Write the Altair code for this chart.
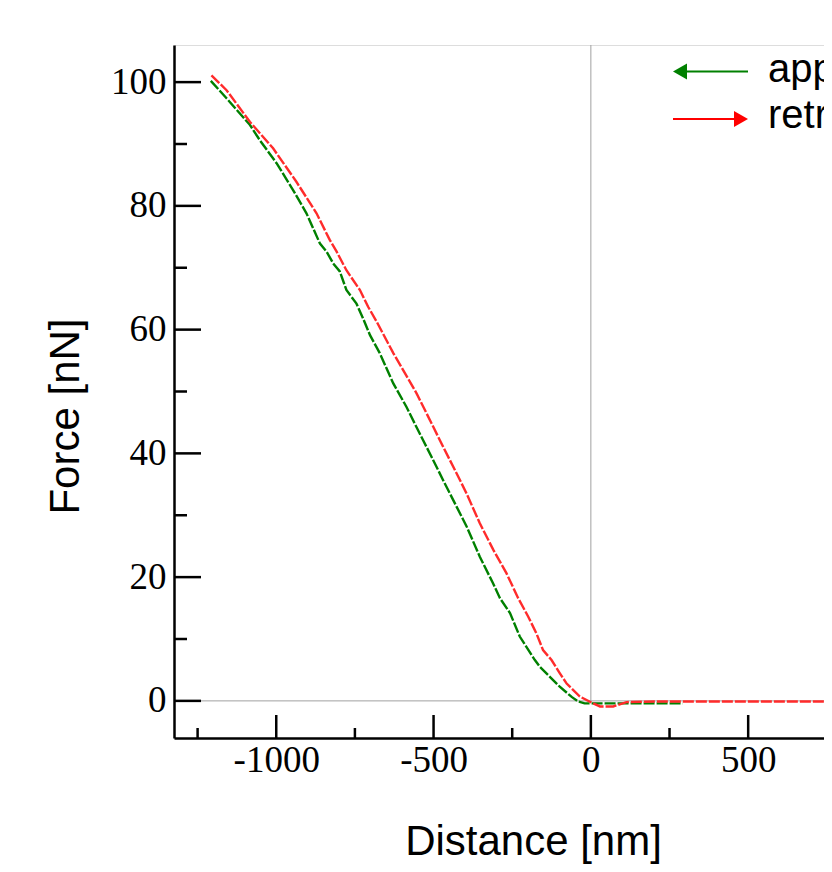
import altair as alt
import pandas as pd

# ---- data ----
series_names = ["approach", "retract"]

approach_x = [-1208, -1158, -1084, -1052, -999, -947, -904, -861, -840, -819, -798, -777,
              -745, -724, -702, -671, -628, -586, -544, -501, -470, -427, -395, -353,
              -311, -289, -257, -226, -178, -162, -99, -60, -40, -20, 50, 150, 250, 292]
approach_f = [100.2, 97.4, 93.1, 90.6, 86.9, 82.6, 78.8, 73.9, 72.6, 70.7, 69.4, 66.4,
              64.2, 61.8, 59.1, 56.2, 51.3, 47.5, 43.2, 38.9, 35.7, 31.4, 28.2, 23.3,
              19.0, 16.6, 14.2, 10.4, 6.6, 5.5, 2.3, 0.6, -0.1, -0.4, -0.4, -0.4, -0.4, -0.4]

retract_x = [-1206, -1158, -1084, -1010, -936, -872, -830, -808, -777, -734, -708, -681,
             -628, -554, -501, -470, -427, -395, -353, -310, -268, -231, -199, -173,
             -152, -125, -99, -77, -35, 7, 29, 71, 113, 200, 400, 600, 800, 1000]
retract_f = [101.1, 98.7, 93.6, 89.3, 83.9, 78.8, 74.5, 72.6, 69.6, 66.4, 63.7, 61.3,
             56.2, 49.7, 44.3, 41.1, 36.8, 33.5, 28.7, 24.4, 20.6, 16.6, 13.6, 10.9,
             8.2, 6.6, 4.5, 2.8, 0.7, -0.4, -0.9, -0.9, -0.2, -0.1, -0.1, -0.1, -0.1, -0.1]

x_major = [-1000, -500, 0, 500]
x_minor = [-1250, -750, -250, 250, 750]
y_major = [0, 20, 40, 60, 80, 100]
y_minor = [10, 30, 50, 70, 90]

# ---- chart ----
W, H = 650, 693

df = pd.concat([
    pd.DataFrame({"x": approach_x, "y": approach_f, "series": series_names[0]}),
    pd.DataFrame({"x": retract_x, "y": retract_f, "series": series_names[1]}),
])

xs = alt.Scale(domain=[-1325, 741], nice=False, zero=False)
ys = alt.Scale(domain=[-6, 106], nice=False, zero=False)

xaxis = alt.Axis(values=x_major, title="Distance [nm]", ticks=False, tickSize=0, grid=False,
                 labelExpr="'' + datum.value",
                 labelFont="Liberation Serif", labelFontSize=37, labelColor="black",
                 labelPadding=4, labelFlush=False, labelOverlap=False,
                 domainColor="black", domainWidth=2.5,
                 titleFont="Liberation Sans", titleFontSize=42, titleFontWeight="normal",
                 titleColor="black", titleX=359, titleY=116, titleBaseline="alphabetic",
                 titleAlign="center")
yaxis = alt.Axis(values=y_major, title="Force [nN]", ticks=False, tickSize=0, grid=False,
                 labelExpr="'' + datum.value",
                 labelFont="Liberation Serif", labelFontSize=37, labelColor="black",
                 labelPadding=8, labelFlush=False, labelOverlap=False,
                 domainColor="black", domainWidth=2.5,
                 titleFont="Liberation Sans", titleFontSize=42, titleFontWeight="normal",
                 titleColor="black", titleAngle=270, titleX=-96, titleY=371,
                 titleBaseline="alphabetic", titleAlign="center")

X = lambda: alt.X("x:Q", scale=xs, axis=xaxis)
Y = lambda: alt.Y("y:Q", scale=ys, axis=yaxis)

zero_h = alt.Chart(pd.DataFrame({"y": [0]})).mark_rule(color="#a0a0a0", strokeWidth=1).encode(y=Y())
zero_v = alt.Chart(pd.DataFrame({"x": [0], "y": [0], "y2": [106]})).mark_rule(
    color="#a0a0a0", strokeWidth=1).encode(x=X(), y=Y(), y2="y2:Q")

lines = alt.Chart(df).mark_line(strokeWidth=2.4, strokeDash=[11, 2], clip=True).encode(
    x=X(), y=Y(),
    color=alt.Color("series:N", scale=alt.Scale(domain=series_names, range=["#008000", "#ff2b2b"]),
                    legend=None),
    order=alt.Order("x:Q"),
)

xt_major = alt.Chart(pd.DataFrame({"x": x_major})).mark_rule(color="black", strokeWidth=2.5, clip=True).encode(
    x=X(), y=alt.value(H), y2=alt.value(H - 23))
xt_minor = alt.Chart(pd.DataFrame({"x": x_minor})).mark_rule(color="black", strokeWidth=2.5, clip=True).encode(
    x=X(), y=alt.value(H), y2=alt.value(H - 10))
yt_major = alt.Chart(pd.DataFrame({"y": y_major})).mark_rule(color="black", strokeWidth=2.5).encode(
    y=Y(), x=alt.value(0), x2=alt.value(27))
yt_minor = alt.Chart(pd.DataFrame({"y": y_minor})).mark_rule(color="black", strokeWidth=2.5).encode(
    y=Y(), x=alt.value(0), x2=alt.value(13))

# ---- custom legend (arrows) ----
one = pd.DataFrame({"k": [0]})
leg_g_line = alt.Chart(one).mark_rule(color="#008000", strokeWidth=2).encode(
    x=alt.value(502), x2=alt.value(574), y=alt.value(26.5))
leg_g_head = alt.Chart(one).mark_point(shape="triangle-left", filled=True, color="#008000",
                                       size=260, opacity=1).encode(x=alt.value(506), y=alt.value(26.5))
leg_r_line = alt.Chart(one).mark_rule(color="#ff0000", strokeWidth=2).encode(
    x=alt.value(499), x2=alt.value(566), y=alt.value(74))
leg_r_head = alt.Chart(one).mark_point(shape="triangle-right", filled=True, color="#ff0000",
                                       size=260, opacity=1).encode(x=alt.value(567), y=alt.value(74))
leg_g_text = alt.Chart(one).mark_text(text=series_names[0], font="Liberation Sans", fontSize=40,
                                      align="left", baseline="alphabetic", color="black").encode(
    x=alt.value(594), y=alt.value(37))
leg_r_text = alt.Chart(one).mark_text(text=series_names[1], font="Liberation Sans", fontSize=40,
                                      align="left", baseline="alphabetic", color="black").encode(
    x=alt.value(594), y=alt.value(83))

chart = alt.layer(
    zero_h, zero_v, lines, xt_major, xt_minor, yt_major, yt_minor,
    leg_g_line, leg_g_head, leg_r_line, leg_r_head, leg_g_text, leg_r_text,
).properties(
    width=W, height=H,
    autosize=alt.AutoSizeParams(type="none"),
    padding={"left": 166, "top": 37, "right": 0, "bottom": 126},
).configure_view(stroke=None).configure(background="white")

chart.save("out.html", embed_options={"renderer": "svg", "actions": False})
